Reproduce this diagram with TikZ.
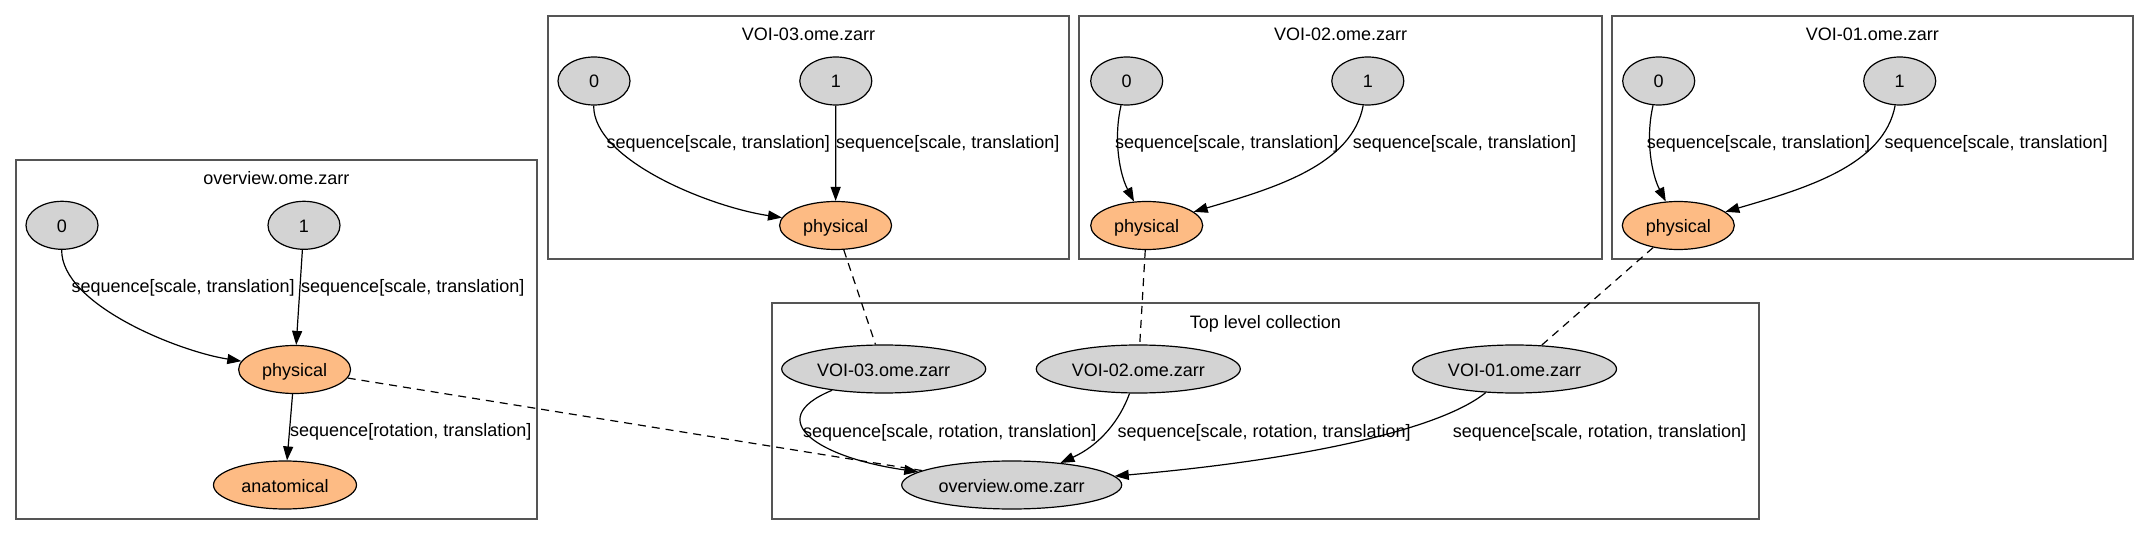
\documentclass[tikz,border=0pt]{standalone}
\usepackage{fontspec}
\setmainfont{Liberation Sans}
\usetikzlibrary{arrows.meta,shapes.geometric}
\definecolor{nodegray}{HTML}{D3D3D3}
\definecolor{physorange}{HTML}{FDBB84}
\definecolor{clusterline}{HTML}{555555}
\begin{document}
\begin{tikzpicture}[x=1bp,y=-1bp,font=\fontsize{18bp}{21bp}\selectfont,
  gnode/.style={ellipse,draw,line width=1.2bp,fill=nodegray,inner sep=0pt,minimum height=48bp,text height=14bp,text depth=0bp},
  onode/.style={gnode,fill=physorange},
  cluster/.style={draw=clusterline,line width=1.8bp},
  ctitle/.style={anchor=base,inner sep=0pt},
  elabel/.style={anchor=base west,inner sep=0pt},
  arrowedge/.style={line width=1.2bp,-{Triangle[length=14bp,width=10bp]}},
  dashlink/.style={line width=1.2bp,dash pattern=on 8bp off 6bp}]
\useasboundingbox (0,0) rectangle (2149,536);
% clusters
\draw[cluster] (15.7,160) rectangle (537,519);
\node[ctitle] (tOverview) at (276.4,185) {overview.ome.zarr};
\draw[cluster] (547.6,15.7) rectangle (1069.3,259.3);
\node[ctitle] (tV3) at (808.5,41) {VOI-03.ome.zarr};
\draw[cluster] (1079.3,15.7) rectangle (1602,259.3);
\node[ctitle] (tV2) at (1340.7,41) {VOI-02.ome.zarr};
\draw[cluster] (1611.7,15.7) rectangle (2133,259.3);
\node[ctitle] (tV1) at (1872.3,41) {VOI-01.ome.zarr};
\draw[cluster] (771.7,303.3) rectangle (1759,519.3);
\node[ctitle] (tTop) at (1265.3,328.7) {Top level collection};
% overview nodes
\node[gnode,minimum width=72bp] (o0) at (62,225.3) {0};
\node[gnode,minimum width=72bp] (o1) at (304,225.3) {1};
\node[onode,minimum width=112bp] (ophys) at (294.6,369.5) {physical};
\node[onode,minimum width=143bp] (oanat) at (285,485) {anatomical};
% VOI-03
\node[gnode,minimum width=72bp] (v3a) at (594,81) {0};
\node[gnode,minimum width=72bp] (v3b) at (835.8,81) {1};
\node[onode,minimum width=112bp] (v3p) at (835.6,225.5) {physical};
% VOI-02
\node[gnode,minimum width=72bp] (v2a) at (1126.7,81) {0};
\node[gnode,minimum width=72bp] (v2b) at (1367.8,81) {1};
\node[onode,minimum width=112bp] (v2p) at (1146.7,225.5) {physical};
% VOI-01
\node[gnode,minimum width=72bp] (v1a) at (1658.7,81) {0};
\node[gnode,minimum width=72bp] (v1b) at (1899.7,81) {1};
\node[onode,minimum width=112bp] (v1p) at (1678.3,225.5) {physical};
% top level
\node[gnode,minimum width=204bp] (tv3) at (883.7,369) {VOI-03.ome.zarr};
\node[gnode,minimum width=204bp] (tv2) at (1138.3,369) {VOI-02.ome.zarr};
\node[gnode,minimum width=204bp] (tv1) at (1514.5,369) {VOI-01.ome.zarr};
\node[gnode,minimum width=220bp] (tov) at (1011.7,485) {overview.ome.zarr};
% dashed links
\draw[dashlink] (ophys) -- (tov);
\draw[dashlink] (v3p) -- (tv3);
\draw[dashlink] (v2p) -- (tv2);
\draw[dashlink] (v1p) -- (tv1);
% overview edges
\draw[arrowedge] (o0) .. controls (61,304.3) and (178,351.3) .. (ophys);
\draw[arrowedge] (o1) -- (ophys);
\draw[arrowedge] (ophys) -- (oanat);
% VOI-03 edges
\draw[arrowedge] (v3a) .. controls (593,160) and (710,207) .. (v3p);
\draw[arrowedge] (v3b) -- (v3p);
% VOI-02 edges
\draw[arrowedge] (v2a) .. controls (1113,140) and (1120,175) .. (v2p);
\draw[arrowedge] (v2b) .. controls (1352,165) and (1275,188) .. (v2p);
% VOI-01 edges
\draw[arrowedge] (v1a) .. controls (1645,140) and (1652,175) .. (v1p);
\draw[arrowedge] (v1b) .. controls (1884,165) and (1807,188) .. (v1p);
% top edges
\draw[arrowedge] (tv3) .. controls (760,420) and (820,458) .. (tov);
\draw[arrowedge] (tv2) .. controls (1120,420) and (1100,445) .. (tov);
\draw[arrowedge] (tv1) .. controls (1440,430) and (1300,460) .. (tov);
% edge labels
\node[elabel] (lo0) at (71.4,292.5) {sequence[scale, translation]};
\node[elabel] (lo1) at (301,292.5) {sequence[scale, translation]};
\node[elabel] (lop) at (290,436) {sequence[rotation, translation]};
\node[elabel] (l3a) at (606.5,149) {sequence[scale, translation]};
\node[elabel] (l3b) at (836,149) {sequence[scale, translation]};
\node[elabel] (l2a) at (1115,149) {sequence[scale, translation]};
\node[elabel] (l2b) at (1352.7,149) {sequence[scale, translation]};
\node[elabel] (l1a) at (1646.7,149) {sequence[scale, translation]};
\node[elabel] (l1b) at (1884.3,149) {sequence[scale, translation]};
\node[elabel] (lt3) at (803,437) {sequence[scale, rotation, translation]};
\node[elabel] (lt2) at (1117.3,437) {sequence[scale, rotation, translation]};
\node[elabel] (lt1) at (1452.7,437) {sequence[scale, rotation, translation]};
\end{tikzpicture}
\end{document}
